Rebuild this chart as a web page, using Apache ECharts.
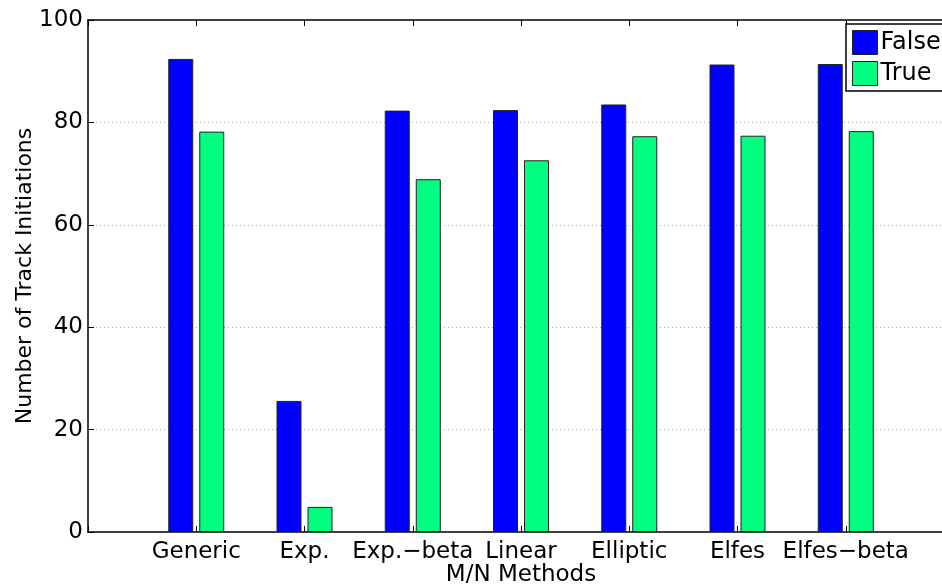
<!DOCTYPE html>
<html>
<head>
<meta charset="utf-8">
<script src="https://cdn.jsdelivr.net/npm/echarts@6/dist/echarts.min.js"></script>
<style>
  html, body { margin: 0; padding: 0; background: #fff; }
  #chart { width: 942px; height: 587px; }
</style>
</head>
<body>
<div id="chart"></div>
<script>
// values
const methods = ['Generic', 'Exp.', 'Exp.\u2212beta', 'Linear', 'Elliptic', 'Elfes', 'Elfes\u2212beta'];
const falseVals = [92.4, 25.6, 82.3, 82.4, 83.5, 91.3, 91.4];
const trueVals = [78.2, 4.9, 68.9, 72.6, 77.3, 77.4, 78.3];
const yTicks = [0, 20, 40, 60, 80, 100];

// pad with an empty slot on each side so the axis runs 0..8 like the figure
const cats = [''].concat(methods, ['']);
const pad = arr => [null].concat(arr, [null]);

const font = 'DejaVu Sans';
const chart = echarts.init(document.getElementById('chart'));

chart.setOption({
  animation: false,
  backgroundColor: '#fff',
  textStyle: { fontFamily: font, color: '#000' },
  // the figure's box runs past the right edge of the picture
  grid: { left: 88, top: 20, bottom: 55, width: 866, outerBoundsMode: 'none', containLabel: false },
  legend: {
    left: 846, top: 24,
    orient: 'vertical',
    icon: 'rect',
    itemWidth: 25, itemHeight: 24, itemGap: 6,
    padding: [6, 40, 5, 6],
    borderColor: '#000', borderWidth: 1.5, backgroundColor: '#fff',
    textStyle: { fontFamily: font, fontSize: 24, color: '#000', padding: [0, 0, 0, -2] },
    itemStyle: { borderColor: '#222', borderWidth: 1 },
    data: ['False', 'True']
  },
  xAxis: [{
    type: 'category',
    data: cats,
    boundaryGap: false,
    name: 'M/N Methods', nameLocation: 'middle', nameGap: 32, nameMoveOverlap: false,
    nameTextStyle: { fontFamily: font, fontSize: 23, color: '#000' },
    axisLine: { lineStyle: { color: '#000', width: 1.5 } },
    axisTick: { inside: true, length: 6, lineStyle: { color: '#000' } },
    axisLabel: { fontFamily: font, fontSize: 23, color: '#000', margin: 9, interval: 0 },
    splitLine: { show: false }
  }, {
    type: 'category',
    data: cats,
    boundaryGap: false,
    position: 'top',
    axisLine: { lineStyle: { color: '#000', width: 1.5 } },
    axisTick: { inside: true, length: 6, lineStyle: { color: '#000' } },
    axisLabel: { show: false }
  }],
  yAxis: {
    type: 'value',
    min: 0, max: 100, interval: 20,
    name: 'Number of Track Initiations', nameLocation: 'middle', nameGap: 52, nameMoveOverlap: false,
    nameTextStyle: { fontFamily: font, fontSize: 22, color: '#000' },
    axisLine: { show: true, lineStyle: { color: '#000', width: 1.5 } },
    axisTick: { show: true, inside: true, length: 6, lineStyle: { color: '#000' } },
    axisLabel: {
      fontFamily: font, fontSize: 23, color: '#000', margin: 5,
      formatter: v => yTicks.includes(v) ? String(v) : ''
    },
    splitLine: {
      show: true,
      lineStyle: { color: '#aaa', type: [1, 3], width: 1 },
      showMinLine: false, showMaxLine: false
    }
  },
  series: [{
    name: 'False',
    type: 'bar',
    data: pad(falseVals),
    barWidth: 25,
    barGap: '24%',
    itemStyle: { color: '#0000ff', borderColor: '#222', borderWidth: 1 }
  }, {
    name: 'True',
    type: 'bar',
    data: pad(trueVals),
    barWidth: 25,
    itemStyle: { color: '#00ff80', borderColor: '#222', borderWidth: 1 }
  }]
});
</script>
</body>
</html>
